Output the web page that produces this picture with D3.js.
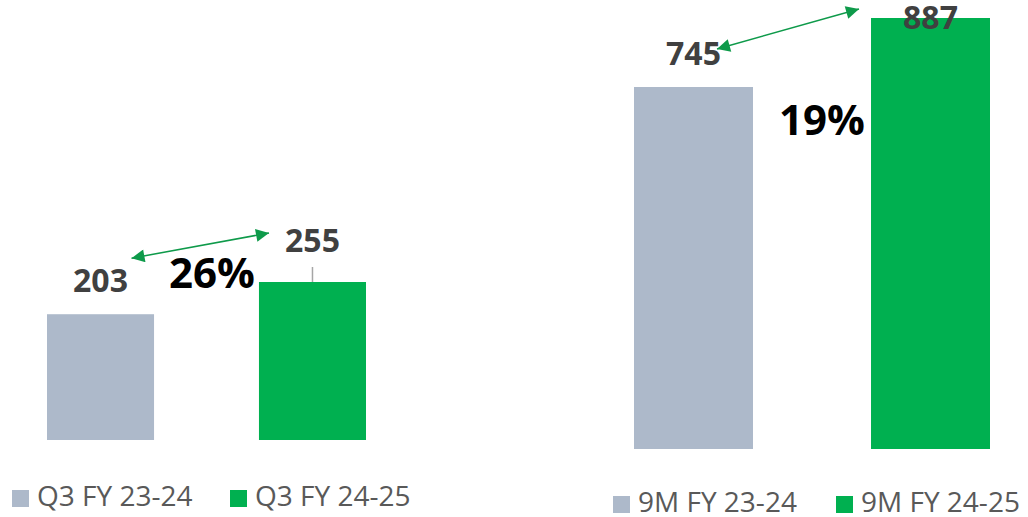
<!DOCTYPE html>
<html>
<head>
<meta charset="utf-8">
<script src="https://cdn.jsdelivr.net/npm/d3@7"></script>
<style>
  body { margin: 0; background: #fff; }
  svg { display: block; font-family: "Open Sans", sans-serif; }
</style>
</head>
<body>
<svg width="1028" height="517"></svg>
<script>
// quarter panel
const q3Labels = ["Q3 FY 23-24", "Q3 FY 24-25"];
const q3Values = [203, 255];
const q3Growth = "26%";

// nine month panel
const nineMLabels = ["9M FY 23-24", "9M FY 24-25"];
const nineMValues = [745, 887];
const nineMGrowth = "19%";

const colors = ["#ADB9CA", "#00B050"];

const svg = d3.select("svg");

svg.append("defs").selectAll("marker")
  .data(["start", "end"])
  .enter().append("marker")
  .attr("id", d => "arrow-" + d)
  .attr("viewBox", "0 0 10 10")
  .attr("refX", d => d === "end" ? 10 : 0)
  .attr("refY", 5)
  .attr("markerWidth", 16)
  .attr("markerHeight", 13)
  .attr("markerUnits", "userSpaceOnUse")
  .attr("orient", "auto")
  .append("path")
  .attr("d", d => d === "end" ? "M0,0L10,5L0,10Z" : "M10,0L0,5L10,10Z")
  .attr("fill", "#0E9A4A");

// each panel: layout plus the hand placed annotations
const panels = [
  {
    labels: q3Labels, values: q3Values, growth: q3Growth,
    xRange: [47, 366], yRange: [440, 282], pad: 0.495,
    labelDy: [-22, -30], leader: [false, true],
    arrow: { x1: 31, y1: -56, x2: -43.5, y2: -49 },
    growthPos: [212, 288],
    legendY: 506, legendX: [12, 230]
  },
  {
    labels: nineMLabels, values: nineMValues, growth: nineMGrowth,
    xRange: [634, 990], yRange: [449, 18], pad: 0.498,
    labelDy: [-22, 11], leader: [false, false],
    arrow: { x1: 23.5, y1: -38, x2: -71.5, y2: -9 },
    growthPos: [822, 135],
    legendY: 512, legendX: [613, 836]
  }
];

panels.forEach(p => {
  const x = d3.scaleBand()
    .domain(p.labels)
    .range(p.xRange)
    .paddingInner(p.pad)
    .paddingOuter(0);

  const y = d3.scaleLinear()
    .domain([0, d3.max(p.values)])
    .range(p.yRange);

  const g = svg.append("g");
  const data = p.labels.map((l, i) => ({ label: l, value: p.values[i], i: i }));

  g.selectAll(".bar")
    .data(data)
    .enter().append("rect")
    .attr("class", "bar")
    .attr("x", d => x(d.label))
    .attr("y", d => y(d.value))
    .attr("width", x.bandwidth())
    .attr("height", d => y(0) - y(d.value))
    .attr("fill", d => colors[d.i]);

  // leader line for labels pulled off the bar
  g.selectAll(".leader")
    .data(data.filter(d => p.leader[d.i]))
    .enter().append("line")
    .attr("x1", d => x(d.label) + x.bandwidth() / 2)
    .attr("x2", d => x(d.label) + x.bandwidth() / 2)
    .attr("y1", d => y(d.value) - 15)
    .attr("y2", d => y(d.value))
    .attr("stroke", "#A6A6A6")
    .attr("stroke-width", 1.5);

  g.selectAll(".val")
    .data(data)
    .enter().append("text")
    .attr("class", "val")
    .attr("x", d => x(d.label) + x.bandwidth() / 2)
    .attr("y", d => y(d.value) + p.labelDy[d.i])
    .attr("text-anchor", "middle")
    .attr("font-size", 32)
    .attr("font-weight", 700)
    .attr("fill", "#404040")
    .text(d => d.value);

  // growth arrow between the two labels
  const a = data[0], b = data[1];
  g.append("line")
    .attr("x1", x(a.label) + x.bandwidth() / 2 + p.arrow.x1)
    .attr("y1", y(a.value) + p.arrow.y1)
    .attr("x2", x(b.label) + x.bandwidth() / 2 + p.arrow.x2)
    .attr("y2", y(b.value) + p.arrow.y2)
    .attr("stroke", "#0E9A4A")
    .attr("stroke-width", 1.5)
    .attr("marker-start", "url(#arrow-start)")
    .attr("marker-end", "url(#arrow-end)");

  g.append("text")
    .attr("x", p.growthPos[0])
    .attr("y", p.growthPos[1])
    .attr("text-anchor", "middle")
    .attr("font-size", 42)
    .attr("font-weight", 700)
    .attr("fill", "#000")
    .text(p.growth);

  // legend
  const leg = g.selectAll(".leg")
    .data(data)
    .enter().append("g")
    .attr("transform", d => "translate(" + p.legendX[d.i] + "," + p.legendY + ")");

  leg.append("rect")
    .attr("x", 0)
    .attr("y", -16)
    .attr("width", 17)
    .attr("height", 17)
    .attr("fill", d => colors[d.i]);

  leg.append("text")
    .attr("x", 25)
    .attr("y", 0)
    .attr("font-size", 28)
    .attr("fill", "#595959")
    .text(d => d.label);
});
</script>
</body>
</html>
